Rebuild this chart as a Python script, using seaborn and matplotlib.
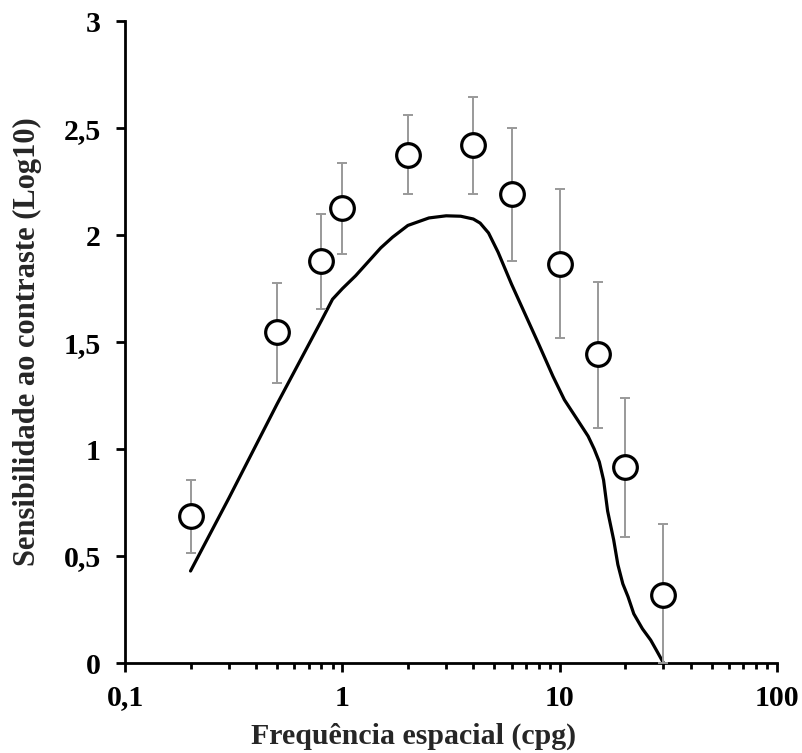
import numpy as np
import pandas as pd
import seaborn as sns
import matplotlib.pyplot as plt
from matplotlib.ticker import FixedLocator, LogLocator, NullFormatter

# Measured points (frequency in cpg, log10 sensitivity) with error bar ends
freq = [0.2, 0.5, 0.8, 1, 2, 4, 6, 10, 15, 20, 30]
sens = [0.687, 1.547, 1.88, 2.126, 2.374, 2.42, 2.19, 1.865, 1.444, 0.916, 0.318]
err_low = [0.515, 1.31, 1.655, 1.91, 2.19, 2.19, 1.88, 1.52, 1.10, 0.59, 0.0]
err_high = [0.855, 1.775, 2.10, 2.335, 2.56, 2.645, 2.50, 2.215, 1.78, 1.24, 0.65]

# Reference curve
curve_freq = [0.2, 0.3, 0.5, 0.8, 0.9, 1.0, 1.15, 1.3, 1.5, 1.7, 2.0, 2.5, 3.0, 3.5,
              4.0, 4.3, 4.7, 5.2, 6.0, 8.0, 9.3, 10.5, 12, 13.5, 14.4, 15.2, 15.9,
              16.6, 17.7, 18.5, 19.5, 20.6, 21.9, 24, 26.2, 28, 30]
curve_sens = [0.43, 0.77, 1.21, 1.60, 1.70, 1.75, 1.81, 1.87, 1.94, 1.99, 2.045, 2.08,
              2.09, 2.088, 2.075, 2.056, 2.01, 1.92, 1.77, 1.49, 1.34, 1.23, 1.14,
              1.06, 1.0, 0.94, 0.855, 0.71, 0.575, 0.46, 0.37, 0.31, 0.23, 0.16,
              0.107, 0.055, 0.0]

xticks = [0.1, 1, 10, 100]
xtick_labels = ['0,1', '1', '10', '100']
yticks = [0, 0.5, 1, 1.5, 2, 2.5, 3]
ytick_labels = ['0', '0,5', '1', '1,5', '2', '2,5', '3']

df_pts = pd.DataFrame({'freq': freq, 'sens': sens})
df_curve = pd.DataFrame({'freq': curve_freq, 'sens': curve_sens})

sns.set_style('white')
plt.rcParams['font.family'] = ['Liberation Serif', 'DejaVu Serif']
plt.rcParams['font.weight'] = 'bold'

fig = plt.figure(figsize=(8.02, 7.53), dpi=100)
ax = fig.add_axes([0.156, 0.1195, 0.813, 0.8525])

sns.lineplot(data=df_curve, x='freq', y='sens', color='black', lw=2.3, ax=ax,
             zorder=2, sort=False)

yerr = [np.array(sens) - np.array(err_low), np.array(err_high) - np.array(sens)]
ax.errorbar(freq, sens, yerr=yerr, fmt='none', ecolor='#999999', elinewidth=1.4,
            capsize=3.3, capthick=1.4, zorder=3)

sns.scatterplot(data=df_pts, x='freq', y='sens', s=290, facecolor='white',
                edgecolor='black', linewidth=2.3, ax=ax, zorder=4)

ax.set_xscale('log')
ax.set_xlim(0.1, 100)
ax.set_ylim(0, 3)
ax.xaxis.set_major_locator(FixedLocator(xticks))
ax.set_xticklabels(xtick_labels)
ax.xaxis.set_minor_locator(LogLocator(base=10, subs=np.arange(2, 10)))
ax.xaxis.set_minor_formatter(NullFormatter())
ax.set_yticks(yticks)
ax.set_yticklabels(ytick_labels)

for side in ['top', 'right']:
    ax.spines[side].set_visible(False)
for side in ['left', 'bottom']:
    ax.spines[side].set_linewidth(2.0)
    ax.spines[side].set_color('black')

ax.tick_params(axis='both', which='major', direction='out', length=6.5, width=2,
               labelsize=21.5, colors='black')
ax.tick_params(axis='x', which='major', pad=9)
ax.tick_params(axis='y', which='major', pad=11)
ax.tick_params(axis='x', which='minor', direction='out', length=4, width=2, colors='black')
ax.tick_params(axis='y', which='both', left=True)
ax.tick_params(axis='x', which='both', bottom=True)

ax.set_xlabel('Frequência espacial (cpg)', fontsize=21.5, fontweight='bold')
ax.set_ylabel('Sensibilidade ao contraste (Log10)', fontsize=22, fontweight='bold')
ax.xaxis.set_label_coords(0.442, -0.093)
ax.yaxis.set_label_coords(-0.127, 0.5)

fig.savefig('out.png', dpi=100)
